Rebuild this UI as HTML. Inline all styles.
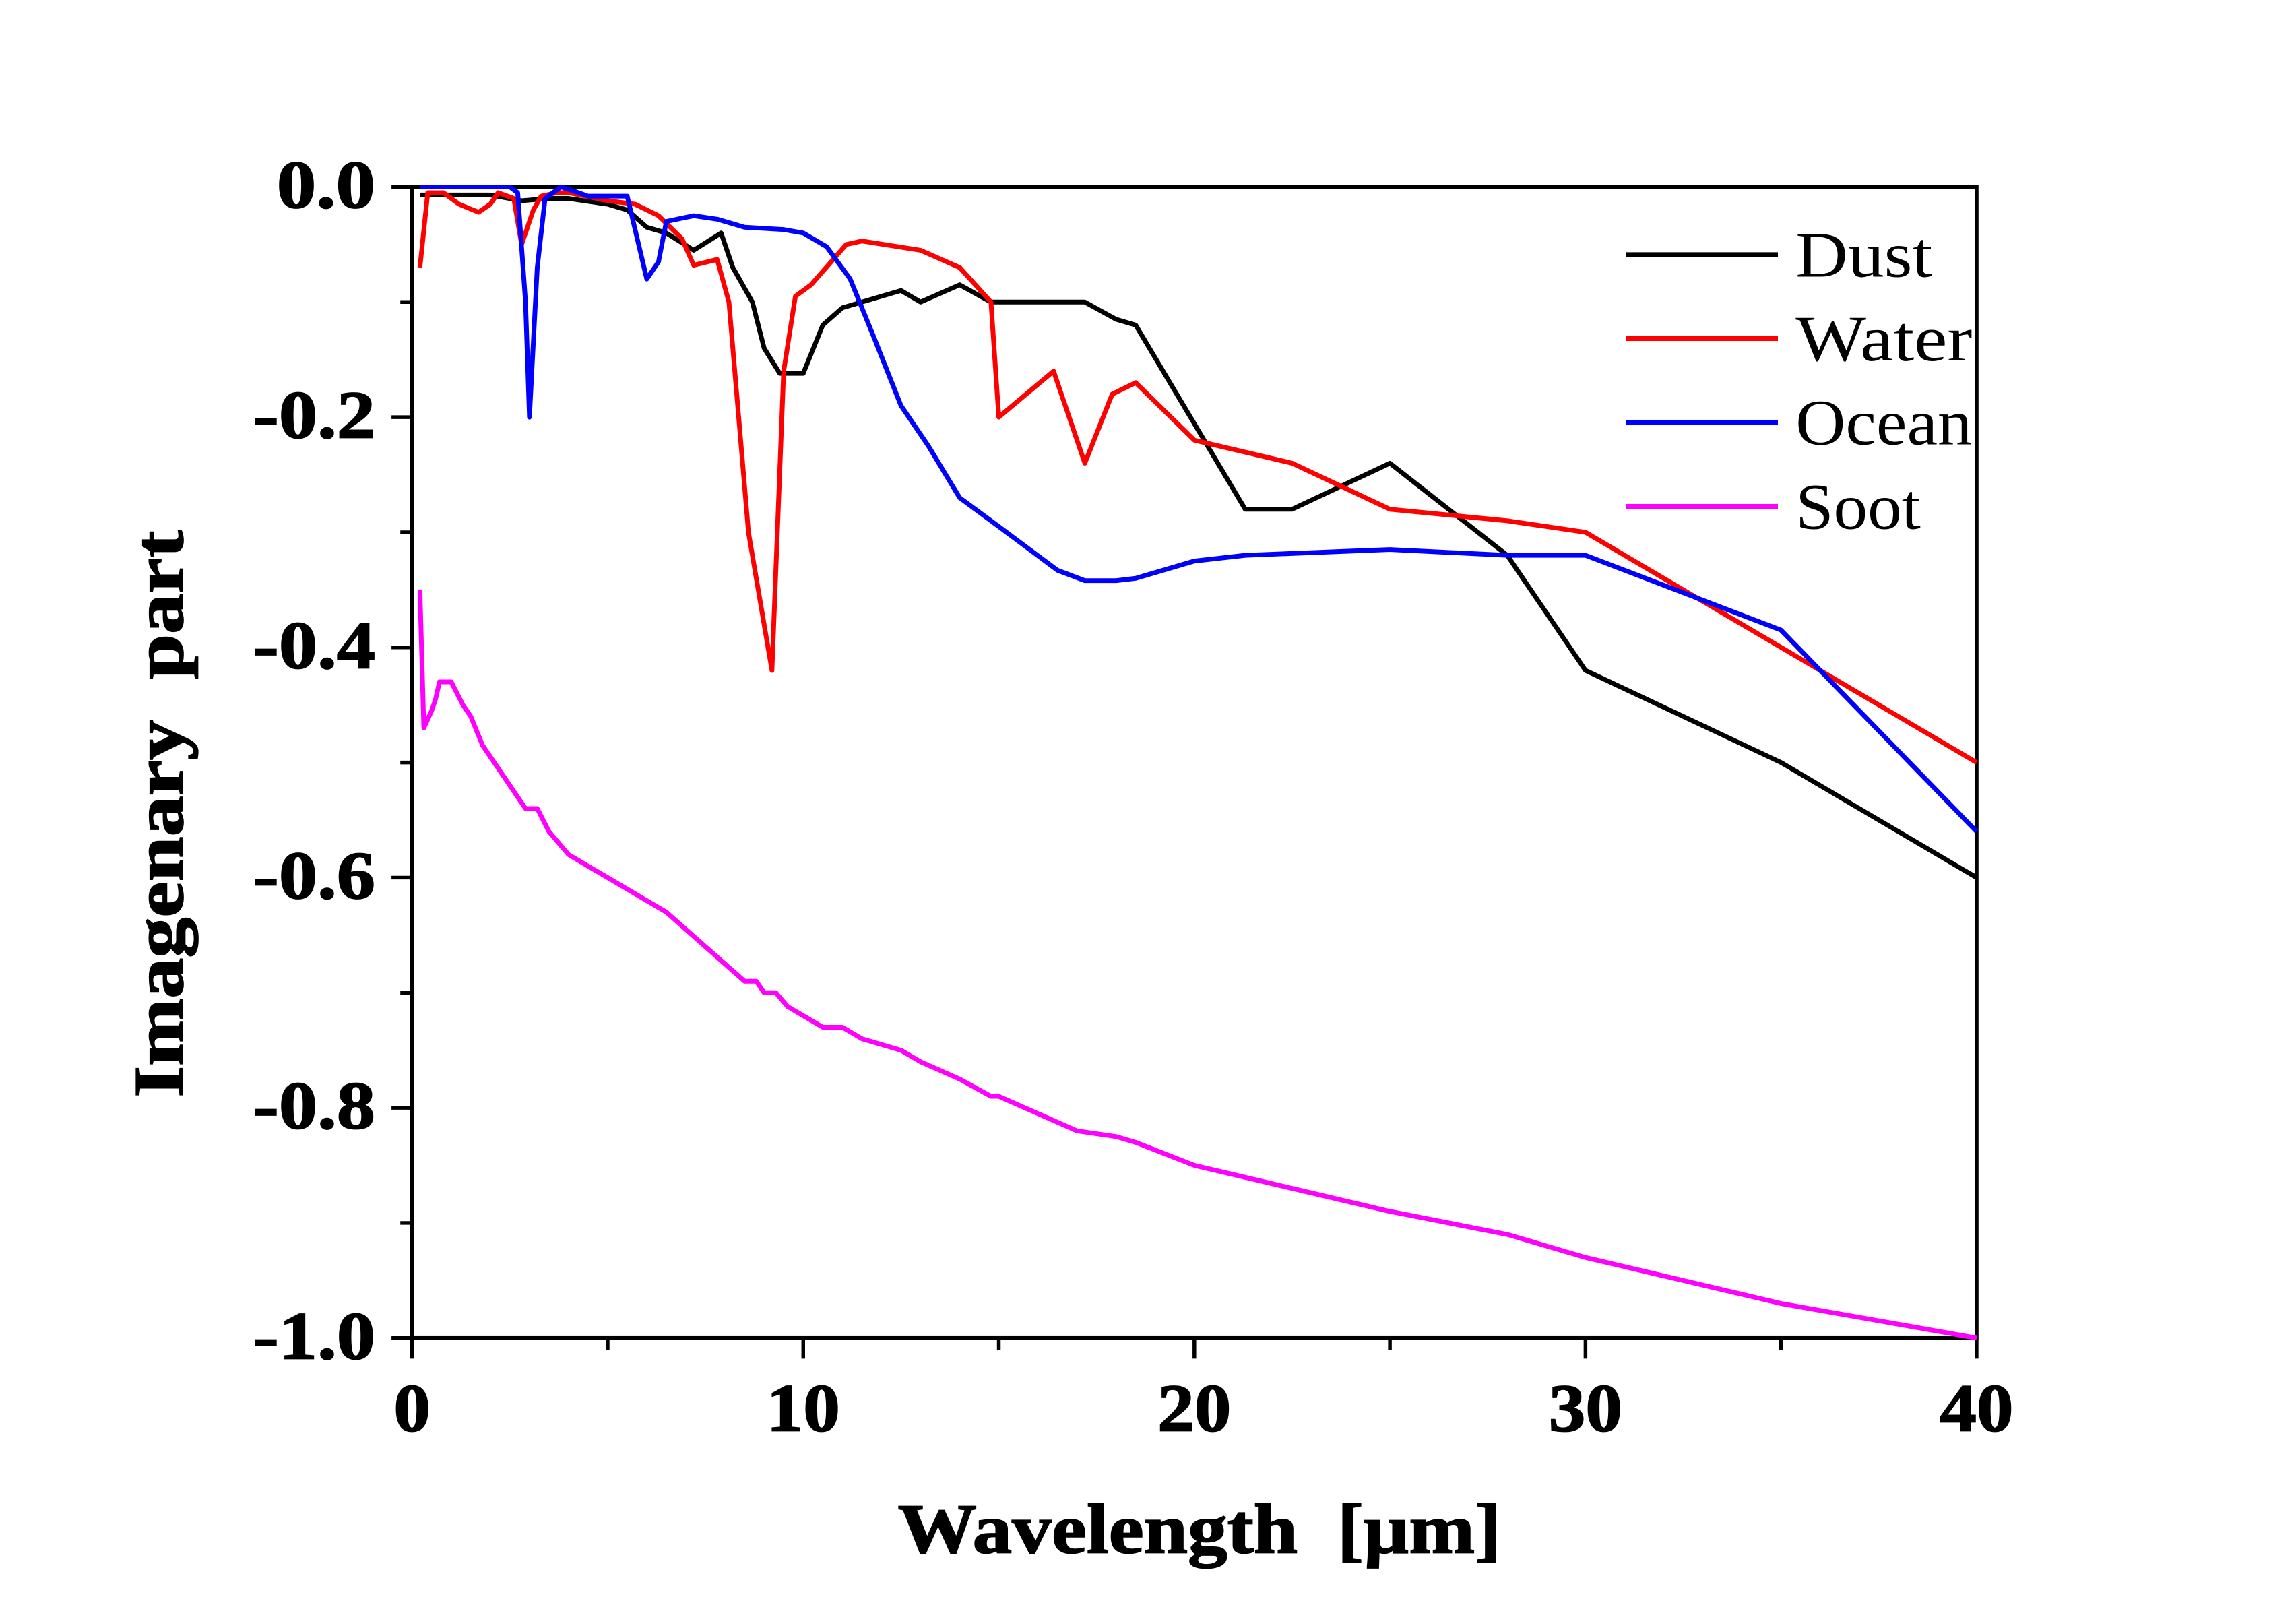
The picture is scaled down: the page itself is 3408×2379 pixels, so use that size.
<!DOCTYPE html>
<html><head><meta charset="utf-8"><style>
html,body{margin:0;padding:0;background:#fff;}
svg{display:block;}
text{font-family:"Liberation Serif",serif;}
</style></head><body>
<svg id="chart" width="3408" height="2379" viewBox="0 0 1560 1089" preserveAspectRatio="none" xmlns="http://www.w3.org/2000/svg">
<g id="axes"></g>
<g id="series"></g>
<g id="legend"></g>
<text x="815" y="1055" text-anchor="middle" font-size="48" font-weight="bold" xml:space="preserve" stroke="#000" stroke-width="0.8" textLength="410" lengthAdjust="spacingAndGlyphs">Wavelength  [µm]</text>
<text transform="translate(124,553) rotate(-90)" text-anchor="middle" font-size="48" font-weight="bold" xml:space="preserve" stroke="#000" stroke-width="0.8" textLength="385" lengthAdjust="spacingAndGlyphs">Imagenary  part</text>
</svg>
<script>
const dustX=[0.2,2,2.8,3.5,4,5,5.5,6,6.5,7.2,7.9,8.2,8.7,9,9.4,10,10.5,11,12.5,13,14,14.8,17.2,18,18.5,21.3,22.5,25,28,30,35,40];
const dustY=[-0.007,-0.007,-0.012,-0.01,-0.01,-0.015,-0.02,-0.035,-0.04,-0.055,-0.04,-0.07,-0.1,-0.14,-0.162,-0.162,-0.12,-0.105,-0.09,-0.1,-0.085,-0.1,-0.1,-0.115,-0.12,-0.28,-0.28,-0.24,-0.32,-0.42,-0.5,-0.6];
const waterX=[0.2,0.4,0.8,1.2,1.7,2,2.2,2.6,2.8,3.1,3.3,3.7,4,5,5.7,6.3,6.9,7.2,7.8,8.1,8.6,9.2,9.5,9.8,10.2,11.1,11.5,13,14,14.8,15,16.4,17.2,17.9,18.5,20,22.5,25,28,30,35,40];
const waterY=[-0.07,-0.005,-0.005,-0.015,-0.022,-0.015,-0.005,-0.01,-0.05,-0.02,-0.008,-0.005,-0.005,-0.012,-0.015,-0.025,-0.045,-0.068,-0.063,-0.1,-0.3,-0.42,-0.16,-0.095,-0.085,-0.05,-0.047,-0.055,-0.07,-0.1,-0.2,-0.16,-0.24,-0.18,-0.17,-0.22,-0.24,-0.28,-0.29,-0.3,-0.4,-0.5];
const oceanX=[0.2,2.5,2.7,2.9,3.0,3.2,3.4,3.8,4,4.5,5.5,6.0,6.3,6.5,7.2,7.8,8.5,9.5,10,10.6,11.2,11.8,12.5,13.2,14,15,16.5,17.2,18,18.5,20,21.3,25,28,30,35,40];
const oceanY=[0,0,-0.005,-0.1,-0.2,-0.07,-0.01,0,-0.002,-0.008,-0.008,-0.08,-0.065,-0.03,-0.025,-0.028,-0.035,-0.037,-0.04,-0.052,-0.08,-0.13,-0.19,-0.225,-0.27,-0.295,-0.333,-0.342,-0.342,-0.34,-0.325,-0.32,-0.315,-0.32,-0.32,-0.385,-0.56];
const sootX=[0.2,0.3,0.5,0.6,0.7,1,1.3,1.5,1.8,2.2,2.6,2.9,3.2,3.5,4,5,6,6.5,7.5,8,8.5,8.8,9,9.3,9.6,10,10.5,11,11.5,12.5,13,14,14.8,15,16,17,18,18.5,20,22.5,25,28,30,35,40];
const sootY=[-0.35,-0.47,-0.455,-0.445,-0.43,-0.43,-0.45,-0.46,-0.485,-0.505,-0.525,-0.54,-0.54,-0.56,-0.58,-0.6,-0.62,-0.63,-0.66,-0.675,-0.69,-0.69,-0.7,-0.7,-0.712,-0.72,-0.73,-0.73,-0.74,-0.75,-0.76,-0.775,-0.79,-0.79,-0.805,-0.82,-0.825,-0.83,-0.85,-0.87,-0.89,-0.91,-0.93,-0.97,-1.0];
const xTicks=[0,10,20,30,40];
const yTicks=[0,-0.2,-0.4,-0.6,-0.8,-1.0];
const yTickLabels=["0.0","-0.2","-0.4","-0.6","-0.8","-1.0"];
const seriesNames=["Dust","Water","Ocean","Soot"];
const seriesColors=["#000000","#ff0000","#0000ff","#ff00ff"];

const L=280,R=1343,T=127,B=909;
const xs=v=>L+(v/40)*(R-L);
const ys=v=>T+(-v/1.0)*(B-T);
const NS="http://www.w3.org/2000/svg";
function mk(tag,attrs,parent){const e=document.createElementNS(NS,tag);for(const k in attrs)e.setAttribute(k,attrs[k]);parent.appendChild(e);return e;}
const axes=document.getElementById('axes');
const sg=document.getElementById('series');
const lg=document.getElementById('legend');

let frame=mk('rect',{x:L,y:T,width:R-L,height:B-T,fill:'none',stroke:'#000','stroke-width':2.6},axes);



for(let i=0;i<=8;i++){
  const v=i*5;const major=i%2===0;
  let t=mk('line',{x1:xs(v),x2:xs(v),y1:B,y2:B+(major?14:8),stroke:'#000','stroke-width':2.5},axes);
  
  
}
xTicks.forEach(v=>{
  const s=String(v);
  let t=mk('text',{x:xs(v),y:B+63,'text-anchor':'middle','font-size':46,'font-weight':'bold',stroke:'#000','stroke-width':0.8,textLength:s.length*25,lengthAdjust:'spacingAndGlyphs'},axes);
  t.textContent=s;
  
  
});
for(let i=0;i<=10;i++){
  const v=-i*0.1;const major=i%2===0;
  let t=mk('line',{x1:L-(major?14:8),x2:L,y1:ys(v),y2:ys(v),stroke:'#000','stroke-width':2.5},axes);
  
  
}
yTicks.forEach((v,i)=>{
  const s=yTickLabels[i];
  let t=mk('text',{x:L-25,y:ys(v)+14,'text-anchor':'end','font-size':46,'font-weight':'bold',stroke:'#000','stroke-width':0.8,textLength:s.length===3?67:83,lengthAdjust:'spacingAndGlyphs'},axes);
  t.textContent=s;
  
  
});

const data=[[dustX,dustY],[waterX,waterY],[oceanX,oceanY],[sootX,sootY]];
data.forEach((d,si)=>{
  const pts=d[0].map((x,i)=>xs(x).toFixed(2)+','+ys(d[1][i]).toFixed(2)).join(' ');
  let p=mk('polyline',{points:pts,fill:'none',stroke:seriesColors[si],'stroke-width':3.2,'stroke-linejoin':'round'},sg);
  
  
});

const legendWidths=[93,120,120,85];
seriesNames.forEach((n,i)=>{
  const y=173+i*57;
  let l=mk('line',{x1:1105,x2:1208,y1:y,y2:y,stroke:seriesColors[i],'stroke-width':3.2},lg);
  
  
  let t=mk('text',{x:1220,y:y+15,'font-size':44,textLength:legendWidths[i],lengthAdjust:'spacingAndGlyphs'},lg);
  t.textContent=n;
  
  
});
</script>
</body></html>
